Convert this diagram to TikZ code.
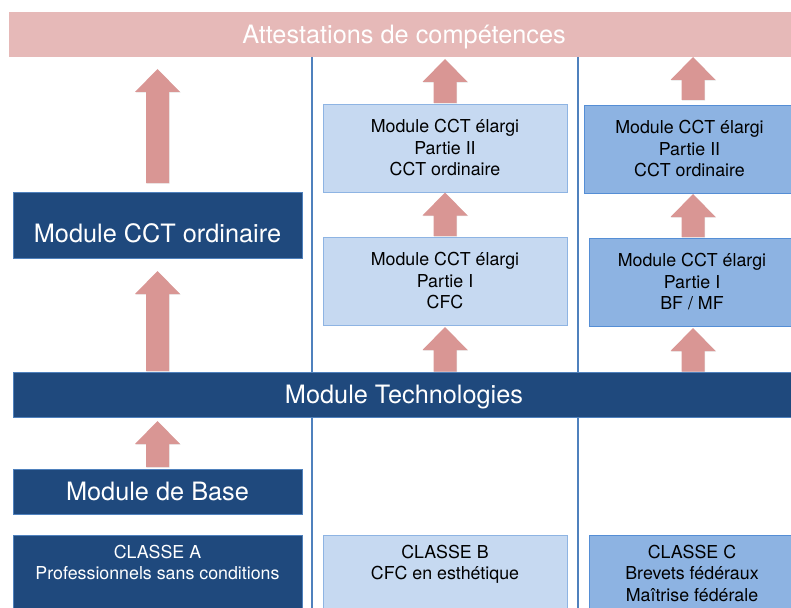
\documentclass[tikz,border=0pt]{standalone}
\usepackage{fontspec}
\setmainfont{TeX Gyre Heros}
\usetikzlibrary{calc,shadows}
\definecolor{dkblue}{HTML}{1F497D}
\definecolor{dkborder}{HTML}{4F81BD}
\definecolor{ltblue}{HTML}{C6D9F1}
\definecolor{ltborder}{HTML}{8EB4E3}
\definecolor{mdblue}{HTML}{8DB3E2}
\definecolor{mdborder}{HTML}{558ED5}
\definecolor{bandpink}{HTML}{E6B9B8}
\definecolor{arrpink}{HTML}{D99694}
\definecolor{seplinecol}{HTML}{4F81BD}
\newcommand\bigfnt{\fontsize{25.3}{30}\selectfont}
\newcommand\smallfnt{\fontsize{17.8}{21.5}\selectfont}
% #1 column coordinate, #2 lower node, #3 upper node, #4 gap above lower node, #5 gap below upper node
\newcommand\blockarrow[5]{%
  \fill[blockarr] let \p1=(#1), \p2=($(#2.north)+(0,-#4)$), \p3=($(#3.south)+(0,#5)$) in
  (\x1-11.5pt,\y2) -- (\x1-11.5pt,\y3-23pt) -- (\x1-22.5pt,\y3-23pt) -- (\x1,\y3)
  -- (\x1+22.5pt,\y3-23pt) -- (\x1+11.5pt,\y3-23pt) -- (\x1+11.5pt,\y2) -- cycle;}
\begin{document}
\begin{tikzpicture}[x=1pt,y=-1pt,
  box/.style={rectangle, inner sep=0pt, outer sep=0pt, line width=0.8pt},
  darkbox/.style={box, fill=dkblue, draw=dkborder, text=white, font=\bigfnt},
  bandbox/.style={box, fill=bandpink, text=white, font=\bigfnt},
  lightbox/.style={box, fill=ltblue, draw=ltborder, font=\smallfnt, align=center},
  midbox/.style={box, fill=mdblue, draw=mdborder, font=\smallfnt, align=center},
  onecap/.style={text height=18.2pt, text depth=0pt},
  smalltxt/.style={inner sep=0pt, outer sep=0pt, font=\smallfnt, align=center, anchor=north},
  sepline/.style={draw=seplinecol, line width=2.5pt},
  blockarr/.style={fill=arrpink, drop shadow={shadow xshift=0.7pt, shadow yshift=-0.7pt, opacity=0.22}}
]
\useasboundingbox (0,0) rectangle (791,607);
\clip (0,0) rectangle (791,607);

% top band
\node[bandbox, onecap, minimum width=790pt, minimum height=45pt] (att) at (404,34.5) {Attestations de compétences};

% separator lines
\draw[sepline] (312,57) -- (312,610);
\draw[sepline] (578,57) -- (578,610);

% column reference points
\coordinate (colL) at (157.5,0);
\coordinate (colM) at (445,0);
\coordinate (colR) at (693,0);

% left column
\node[darkbox, text height=35.2pt, text depth=0pt, minimum width=289pt, minimum height=66pt] (cctord) at (157.5,225) {Module CCT ordinaire};
\node[darkbox, onecap, minimum width=289pt, minimum height=45pt] (base) at (157.5,491.5) {Module de Base};
\node[darkbox, minimum width=289pt, minimum height=100pt] (clA) at (157.5,585) {};
\node[smalltxt, text=white] (clAtxt) at ($(clA.north)+(0,10)$) {CLASSE A\\Professionnels sans conditions};

% middle column
\node[lightbox, minimum width=244pt, minimum height=88pt] (m2) at (445,148) {Module CCT élargi\\Partie II\\CCT ordinaire};
\node[lightbox, minimum width=244pt, minimum height=88pt] (m1) at (445,281) {Module CCT élargi\\Partie I\\CFC};
\node[lightbox, minimum width=244pt, minimum height=100pt] (clB) at (445,585) {};
\node[smalltxt] (clBtxt) at ($(clB.north)+(0,10)$) {CLASSE B\\CFC en esthétique};

% right column
\node[midbox, minimum width=211pt, minimum height=88pt] (r2) at (689.5,149) {Module CCT élargi\\Partie II\\CCT ordinaire};
\node[midbox, minimum width=206pt, minimum height=88pt] (r1) at (692,282) {Module CCT élargi\\Partie I\\BF / MF};
\node[midbox, minimum width=206pt, minimum height=100pt] (clC) at (692,585) {};
\node[smalltxt] (clCtxt) at ($(clC.north)+(0,10)$) {CLASSE C\\Brevets fédéraux\\Maîtrise fédérale};

% technologies band
\node[darkbox, onecap, minimum width=782pt, minimum height=45pt] (tech) at (404,394.5) {Module Technologies};

% block arrows
\blockarrow{colL}{cctord}{att}{9}{12}
\blockarrow{colL}{tech}{cctord}{1}{13}
\blockarrow{colL}{base}{tech}{2}{4}
\blockarrow{colM}{m2}{att}{1}{2}
\blockarrow{colM}{m1}{m2}{1}{0.5}
\blockarrow{colM}{tech}{m1}{0.5}{2}
\blockarrow{colR}{r2}{att}{5}{0}
\blockarrow{colR}{r1}{r2}{1}{1}
\blockarrow{colR}{tech}{r1}{0.5}{2}
\end{tikzpicture}
\end{document}
